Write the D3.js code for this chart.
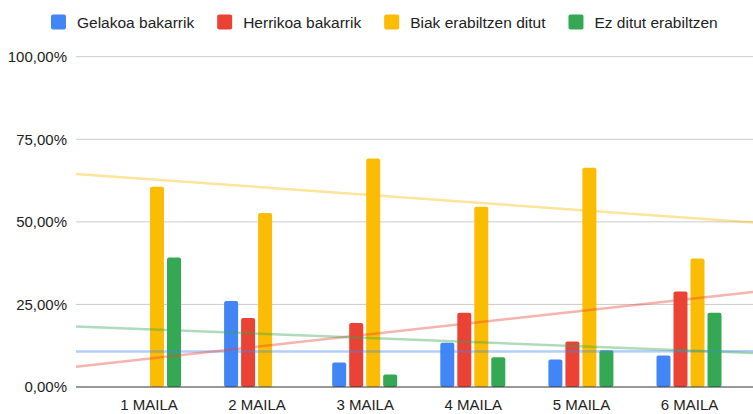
<!DOCTYPE html>
<html>
<head>
<meta charset="utf-8">
<script src="https://cdn.jsdelivr.net/npm/d3@7"></script>
<style>
  html, body { margin: 0; padding: 0; background: #fff; }
  svg { display: block; font-family: Arial, "Liberation Sans", sans-serif; }
</style>
</head>
<body>
<svg id="chart" width="753" height="414"></svg>
<script>
// Grade levels along the horizontal axis
const categories = ["1 MAILA", "2 MAILA", "3 MAILA", "4 MAILA", "5 MAILA", "6 MAILA"];

// Series names and colours
const seriesNames = ["Gelakoa bakarrik", "Herrikoa bakarrik", "Biak erabiltzen ditut", "Ez ditut erabiltzen"];
const seriesColors = ["#4285f4", "#ea4335", "#fbbc04", "#34a853"];

// Share of answers per grade (fractions of 1)
const gelakoa = [0.000, 0.260, 0.074, 0.134, 0.083, 0.095];
const herrikoa = [0.000, 0.209, 0.194, 0.225, 0.138, 0.289];
const biak = [0.606, 0.527, 0.692, 0.546, 0.664, 0.389];
const ezDitut = [0.392, 0.000, 0.038, 0.090, 0.111, 0.225];
const seriesValues = [gelakoa, herrikoa, biak, ezDitut];

// Value axis ticks
const yTicks = [0, 0.25, 0.5, 0.75, 1];
const yTickLabels = ["0,00%", "25,00%", "50,00%", "75,00%", "100,00%"];

const W = 753, H = 414;
const plotLeft = 76;
const svg = d3.select("#chart");

// Grade index (1..6) -> horizontal centre of the group
const x = d3.scaleLinear().domain([1, 6]).range([148.5, 689]);
const y = d3.scaleLinear().domain([0, 1]).range([387, 56.7]);
// Offset of each series bar inside a group
const xSub = d3.scaleBand().domain(d3.range(seriesNames.length))
  .range([-34, 34]).paddingInner(3 / 17).paddingOuter(3 / 34);

// Horizontal gridlines
svg.append("g").selectAll("line")
  .data(yTicks.filter(t => t > 0))
  .join("line")
  .attr("x1", plotLeft).attr("x2", W)
  .attr("y1", d => y(d)).attr("y2", d => y(d))
  .attr("stroke", "#cccccc").attr("stroke-width", 1);

// Value axis labels
const yAxis = d3.axisLeft(y).tickValues(yTicks)
  .tickFormat((d, i) => yTickLabels[i]).tickSize(0).tickPadding(0);
const yg = svg.append("g").attr("transform", `translate(${plotLeft - 9},0)`).call(yAxis);
yg.select(".domain").remove();
yg.selectAll("text").attr("font-size", 15).attr("fill", "#222")
  .attr("font-family", 'Arial, "Liberation Sans", sans-serif');

// Bars
const bars = svg.append("g");
seriesValues.forEach((vals, s) => {
  bars.selectAll(null)
    .data(vals.map((v, i) => ({ v, i })).filter(d => d.v > 0))
    .join("rect")
    .attr("x", d => x(d.i + 1) + xSub(s))
    .attr("width", xSub.bandwidth())
    .attr("y", d => y(d.v))
    .attr("height", d => y(0) - y(d.v))
    .attr("rx", 2).attr("ry", 2)
    .attr("fill", seriesColors[s]);
});

// Linear trend lines (least squares over grade index)
const idx = categories.map((c, i) => i + 1);
const xStart = x.invert(plotLeft), xEnd = x.invert(W);
seriesValues.forEach((vals, s) => {
  const mx = d3.mean(idx), my = d3.mean(vals);
  const sxy = d3.sum(idx, (xi, k) => (xi - mx) * (vals[k] - my));
  const sxx = d3.sum(idx, xi => (xi - mx) ** 2);
  const slope = sxy / sxx, icpt = my - slope * mx;
  const pts = [xStart, xEnd].map(t => [x(t), y(icpt + slope * t)]);
  svg.append("path")
    .attr("d", d3.line()(pts))
    .attr("fill", "none")
    .attr("stroke", seriesColors[s])
    .attr("stroke-opacity", 0.4)
    .attr("stroke-width", 2.5);
});

// Baseline
svg.append("line")
  .attr("x1", plotLeft).attr("x2", W)
  .attr("y1", y(0)).attr("y2", y(0))
  .attr("stroke", "#333").attr("stroke-width", 1);

// Category axis labels
const xAxis = d3.axisBottom(x).tickValues(idx)
  .tickFormat((d, i) => categories[i]).tickSize(0).tickPadding(0);
const xg = svg.append("g").attr("transform", `translate(0,${y(0) + 12})`).call(xAxis);
xg.select(".domain").remove();
xg.selectAll("text").attr("font-size", 15).attr("fill", "#222")
  .attr("font-family", 'Arial, "Liberation Sans", sans-serif');

// Legend laid out left to right
const legend = svg.append("g");
let lx = 51;
seriesNames.forEach((name, s) => {
  legend.append("rect")
    .attr("x", lx).attr("y", 14.5).attr("width", 15).attr("height", 15)
    .attr("rx", 2).attr("fill", seriesColors[s]);
  const t = legend.append("text")
    .attr("x", lx + 26).attr("y", 28)
    .attr("font-size", 15.5).attr("fill", "#222")
    .text(name);
  lx += 26 + t.node().getComputedTextLength() + 23;
});
</script>
</body>
</html>
